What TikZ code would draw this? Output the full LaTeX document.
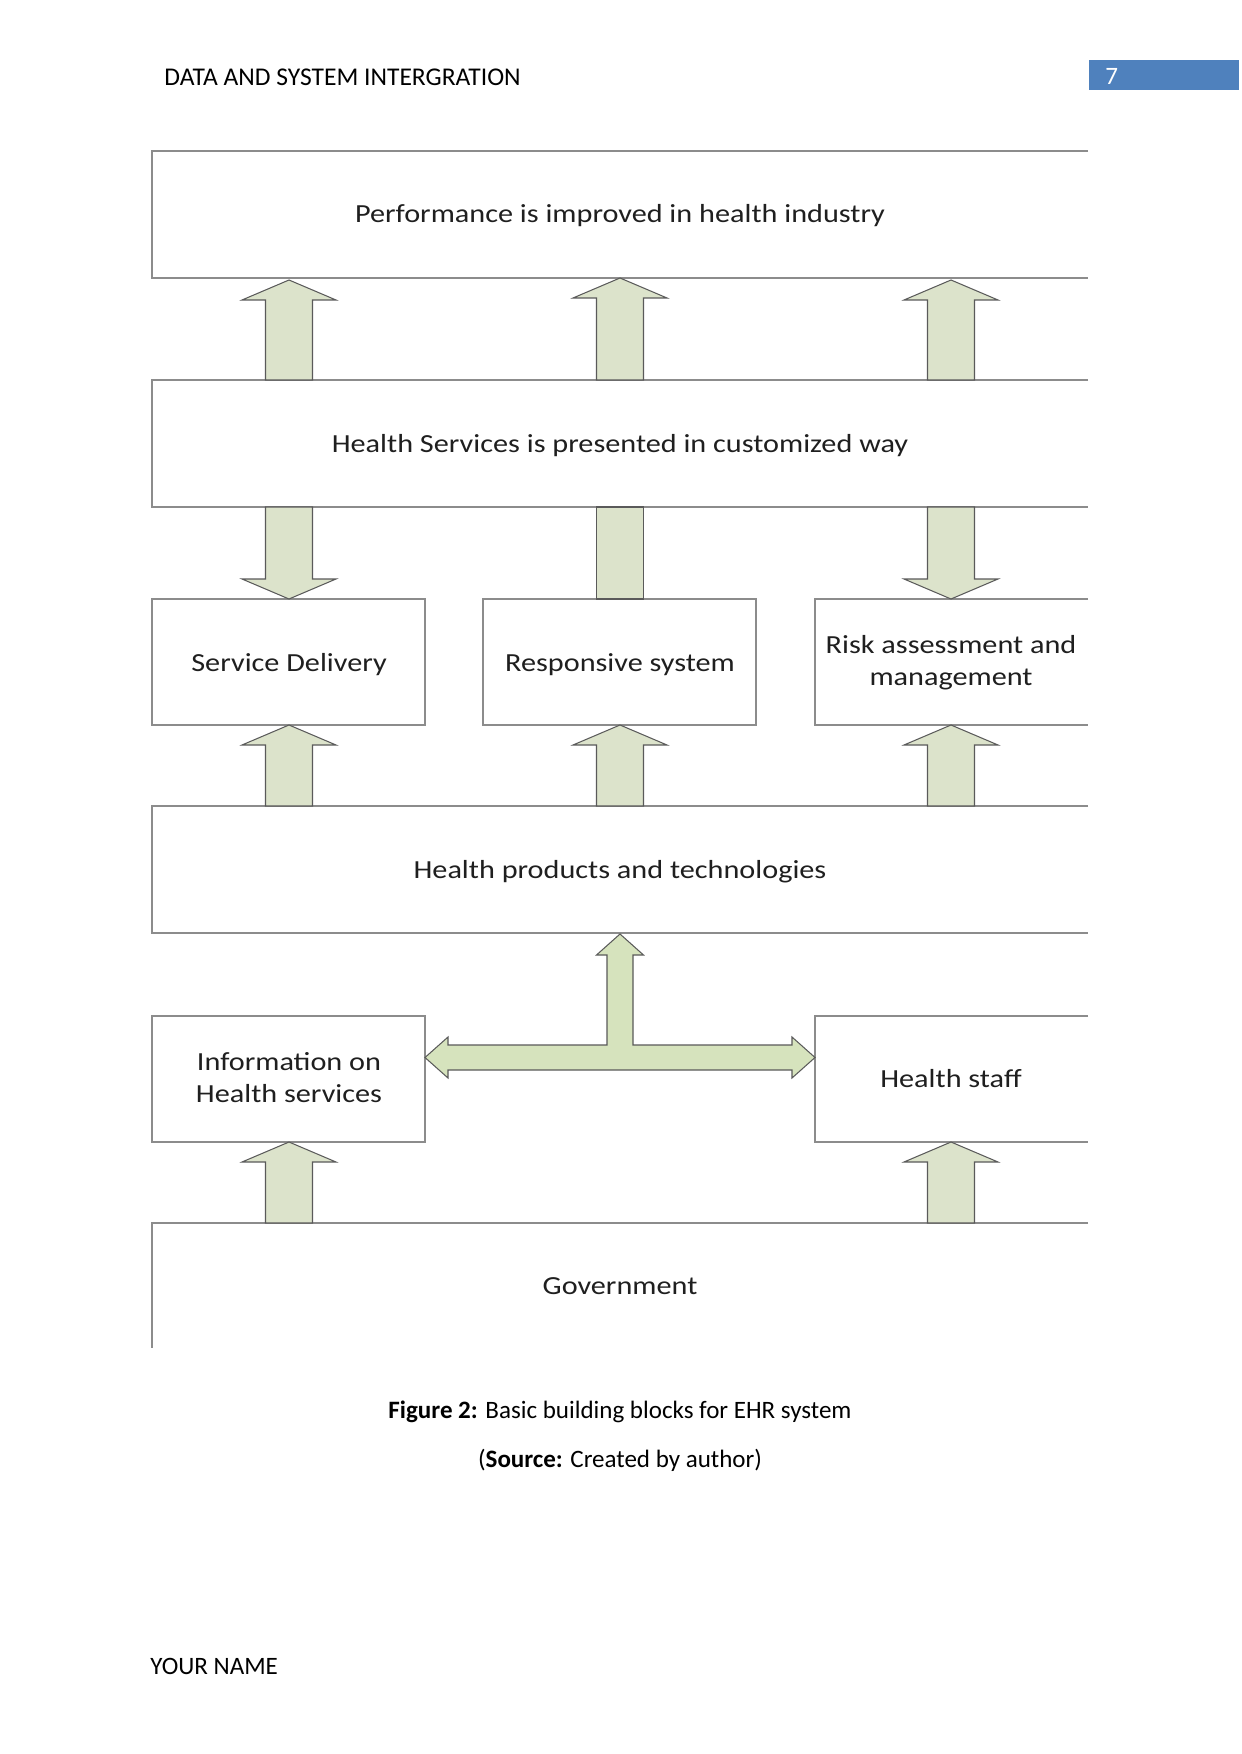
\documentclass[tikz,border=0pt]{standalone}
\usepackage{fontspec}
\setmainfont{Carlito}
\usepackage{graphicx}
\definecolor{boxline}{HTML}{8C8C8C}
\definecolor{arrfill}{HTML}{DCE3CB}
\definecolor{tfill}{HTML}{D6E3BD}
\definecolor{arrline}{HTML}{5A5A5A}
\definecolor{hdrblue}{HTML}{4F81BD}
\newcommand{\dtext}[1]{\scalebox{1.16}[1]{\fontsize{12.5}{15.6}\selectfont\begin{tabular}{@{}c@{}}#1\end{tabular}}}
\newcommand{\uparr}[3]{% cx, ybottom, ytip
  \draw[blockarr] (#1-23.5,#2) -- (#1-23.5,#3+20) -- (#1-47,#3+20) -- (#1,#3) -- (#1+47,#3+20) -- (#1+23.5,#3+20) -- (#1+23.5,#2) -- cycle;}
\newcommand{\downarr}[3]{% cx, ytop, ytip
  \draw[blockarr] (#1-23.5,#2) -- (#1-23.5,#3-20) -- (#1-47,#3-20) -- (#1,#3) -- (#1+47,#3-20) -- (#1+23.5,#3-20) -- (#1+23.5,#2) -- cycle;}
\begin{document}
\begin{tikzpicture}[x=0.4795pt,y=-0.4795pt,
  blockarr/.style={draw=arrline,fill=arrfill,line width=0.5pt,line join=miter},
  openbox/.style={draw=boxline,line width=0.7pt},
  lbl/.style={inner sep=0pt,text=black!88}]
\useasboundingbox[fill=white] (0,0) rectangle (1241,1754);
% header
\node[anchor=west,inner sep=0pt,font=\fontsize{12.25}{14}\selectfont] (hdr) at (164,77) {DATA AND SYSTEM INTERGRATION};
\fill[hdrblue] (1089,60) rectangle (1239,90);
\node[anchor=west,inner sep=0pt,text=white,font=\fontsize{12}{14}\selectfont] (pg) at (1105,76) {7};
% box outlines
\coordinate (b1nw) at (152,151); \coordinate (b1sw) at (152,278);
\coordinate (b2nw) at (152,380); \coordinate (b2sw) at (152,507);
\coordinate (b4nw) at (152,806); \coordinate (b4sw) at (152,933);
\coordinate (b5nw) at (152,1223); \coordinate (b5sw) at (152,1348);
\draw[openbox] (1088,151) -- (b1nw) -- (b1sw) -- (1088,278);
\draw[openbox] (1088,380) -- (b2nw) -- (b2sw) -- (1088,507);
\draw[openbox] (1088,806) -- (b4nw) -- (b4sw) -- (1088,933);
\draw[openbox] (1088,1223) -- (b5nw) -- (b5sw);
% small boxes
\draw[openbox] (152,599) rectangle (425,725);
\draw[openbox] (483,599) rectangle (756,725);
\draw[openbox] (1088,599) -- (815,599) -- (815,725) -- (1088,725);
\draw[openbox] (152,1016) rectangle (425,1142);
\draw[openbox] (1088,1016) -- (815,1016) -- (815,1142) -- (1088,1142);
% texts
\node[lbl] (perf) at (620,215.5) {\dtext{Performance is improved in health industry}};
\node[lbl] (hs) at (620,445.5) {\dtext{Health Services is presented in customized way}};
\node[lbl] (sd) at (289,664.5) {\dtext{Service Delivery}};
\node[lbl] (rs) at (620,664.5) {\dtext{Responsive system}};
\node[lbl] (ra) at (951,663) {\dtext{Risk assessment and\\management}};
\node[lbl] (hp) at (620,871.5) {\dtext{Health products and technologies}};
\node[lbl] (info) at (289,1080) {\dtext{Information on\\Health services}};
\node[lbl] (staff) at (951,1081) {\dtext{Health staff}};
\node[lbl] (gov) at (620,1287.5) {\dtext{Government}};
% arrows row 1
\uparr{289}{380}{280}
\uparr{620}{380}{278}
\uparr{951}{380}{280}
% row 2
\downarr{289}{507}{599}
\draw[blockarr] (596.5,507) rectangle (643.5,599);
\downarr{951}{507}{599}
% row 3
\uparr{289}{806}{725}
\uparr{620}{806}{725}
\uparr{951}{806}{725}
% row 4
\uparr{289}{1223}{1142}
\uparr{951}{1223}{1142}
% T arrow
\draw[blockarr,fill=tfill] (425,1057.5) -- (448,1037) -- (448,1045) -- (607,1045) -- (607,955) -- (596.5,955) -- (620,934) -- (643.5,955) -- (633,955) -- (633,1045) -- (792,1045) -- (792,1037) -- (815,1057.5) -- (792,1078) -- (792,1070) -- (448,1070) -- (448,1078) -- cycle;
% caption
\node[inner sep=0pt,font=\fontsize{12}{14}\selectfont] (cap) at (620,1412) {\textbf{Figure 2:} Basic building blocks for EHR system};
\node[inner sep=0pt,font=\fontsize{12}{14}\selectfont] (src) at (620,1460) {(\textbf{Source:} Created by author)};
% footer
\node[anchor=west,inner sep=0pt,font=\fontsize{12}{14}\selectfont] (ft) at (150,1666) {YOUR NAME};
\end{tikzpicture}
\end{document}
